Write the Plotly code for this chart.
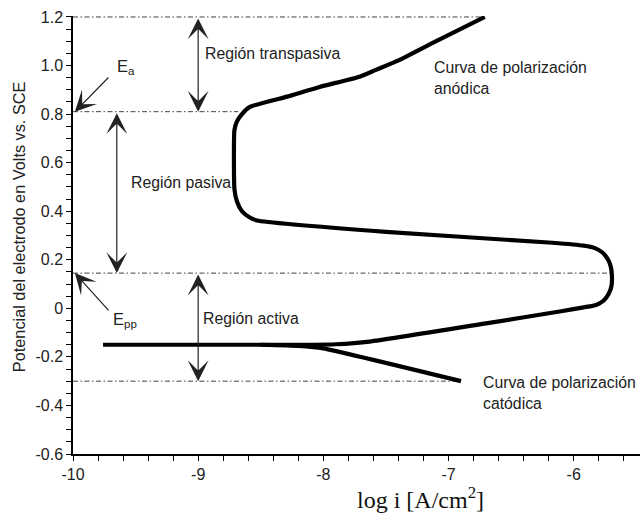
import plotly.graph_objects as go

# ---- data ----
anodic_x = [-9.76, -8.5, -8.1, -7.9, -7.63, -6.70, -6.10, -5.92, -5.82, -5.76, -5.72, -5.697,
            -5.695, -5.705, -5.73, -5.77, -5.83, -5.92, -6.17, -7.5, -8.53, -8.59, -8.65, -8.69,
            -8.71, -8.71, -8.69, -8.65, -8.59, -8.29, -8.03, -7.71, -7.58, -7.39, -7.13, -6.71]
anodic_y = [-0.15, -0.15, -0.15, -0.148, -0.137, -0.062, -0.012, 0.004, 0.014, 0.032, 0.06, 0.095,
            0.14, 0.175, 0.205, 0.23, 0.248, 0.258, 0.27, 0.315, 0.362, 0.375, 0.40, 0.44,
            0.49, 0.735, 0.77, 0.80, 0.829, 0.872, 0.912, 0.954, 0.982, 1.023, 1.092, 1.2]
cathodic_x = [-8.5, -8.2, -8.0, -6.9]
cathodic_y = [-0.15, -0.155, -0.165, -0.30]

ref_levels = [1.2, 0.81, 0.145, -0.3]
ref_ends = [-6.71, -8.68, -5.69, -6.91]
ref_start = -10.0

region_arrow_x = [-9.0, -9.65, -9.0]
region_arrow_top = [1.2, 0.81, 0.145]
region_arrow_bottom = [0.81, 0.145, -0.3]

x_tickvals = [-10, -9, -8, -7, -6]
x_ticktext = ["-10", "-9", "-8", "-7", "-6"]
y_tickvals = [-0.6, -0.4, -0.2, 0, 0.2, 0.4, 0.6, 0.8, 1.0, 1.2]
y_ticktext = ["-0.6", "-0.4", "-0.2", "0", "0.2", "0.4", "0.6", "0.8", "1.0", "1.2"]

FONT = "Liberation Sans, Arial, sans-serif"
TXT = "#222222"
AS = 2.9

fig = go.Figure()

for lvl, end in zip(ref_levels, ref_ends):
    fig.add_trace(go.Scatter(x=[ref_start, end], y=[lvl, lvl], mode="lines",
                             line=dict(color="#444444", width=1, dash="5px,2.5px,1.5px,2.5px"),
                             hoverinfo="skip", showlegend=False))

fig.add_trace(go.Scatter(x=cathodic_x, y=cathodic_y, mode="lines",
                         line=dict(color="black", width=4.2, shape="spline", smoothing=0.4),
                         showlegend=False))
fig.add_trace(go.Scatter(x=anodic_x, y=anodic_y, mode="lines",
                         line=dict(color="black", width=4.2, shape="spline", smoothing=0.5),
                         showlegend=False))

annotations = []
for ax_, top, bot in zip(region_arrow_x, region_arrow_top, region_arrow_bottom):
    annotations.append(dict(x=ax_, y=bot, ax=ax_, ay=top, xref="x", yref="y", axref="x", ayref="y",
                            text="", showarrow=True, arrowhead=3, startarrowhead=3, arrowside="end+start",
                            arrowsize=AS, startarrowsize=AS, arrowwidth=1.2, arrowcolor=TXT,
                            standoff=0, startstandoff=0))

# Ea and Epp pointers
annotations.append(dict(x=-9.985, y=0.81, ax=-9.705, ay=0.957, xref="x", yref="y", axref="x", ayref="y",
                        text="", showarrow=True, arrowhead=3, arrowsize=AS, arrowwidth=1.2,
                        arrowcolor=TXT))
annotations.append(dict(x=-9.985, y=0.145, ax=-9.705, ay=-0.015, xref="x", yref="y", axref="x", ayref="y",
                        text="", showarrow=True, arrowhead=3, arrowsize=AS, arrowwidth=1.2,
                        arrowcolor=TXT))

def label(x, y, text, size=15.8, anchor="left"):
    annotations.append(dict(x=x, y=y, xref="x", yref="y", text=text, showarrow=False,
                            xanchor=anchor, yanchor="middle", align="left",
                            font=dict(family=FONT, size=size, color=TXT)))

label(-8.96, 1.05, "Región transpasiva")
label(-9.553, 0.52, "Región pasiva")
label(-8.98, -0.04, "Región activa")
label(-7.135, 0.95, "Curva de polarización<br>anódica")
label(-6.74, -0.347, "Curva de polarización<br>catódica")
label(-9.665, 0.994, "E<sub>a</sub>", size=16.5)
label(-9.70, -0.048, "E<sub>pp</sub>", size=16.5)

# axis titles
annotations.append(dict(x=-0.0952, y=0.518, xref="paper", yref="paper", text="Potencial del electrodo en Volts vs. SCE",
                        textangle=-90, showarrow=False, xanchor="center", yanchor="middle",
                        font=dict(family=FONT, size=16.3, color=TXT)))
annotations.append(dict(x=-7.22, y=-0.1, xref="x", yref="paper", text="log i [A/cm<sup>2</sup>]",
                        showarrow=False, xanchor="center", yanchor="middle",
                        font=dict(family="Liberation Serif, Times New Roman, serif", size=24, color="#111111")))

fig.update_layout(
    width=642, height=514,
    margin=dict(l=73, r=2, t=16, b=60),
    paper_bgcolor="white", plot_bgcolor="white",
    annotations=annotations,
    showlegend=False,
)
fig.update_xaxes(range=[-10, -5.47], showgrid=False, zeroline=False, showline=True,
                 linecolor="black", linewidth=1.5, ticks="outside", ticklen=5, tickwidth=1,
                 tickcolor="black", tickvals=x_tickvals, ticktext=x_ticktext,
                 tickfont=dict(family=FONT, size=16, color=TXT),
                 minor=dict(dtick=0.2, tick0=-10, ticks="outside", ticklen=5, tickwidth=1,
                            tickcolor="black", showgrid=False))
fig.update_yaxes(range=[-0.6, 1.204], showgrid=False, zeroline=False, showline=True,
                 linecolor="black", linewidth=1.5, ticks="outside", ticklen=5, tickwidth=1,
                 tickcolor="black", tickvals=y_tickvals, ticktext=y_ticktext,
                 tickfont=dict(family=FONT, size=16, color=TXT),
                 minor=dict(dtick=0.05, tick0=-0.6, ticks="outside", ticklen=5, tickwidth=1,
                            tickcolor="black", showgrid=False))

fig.write_html("out.html")
